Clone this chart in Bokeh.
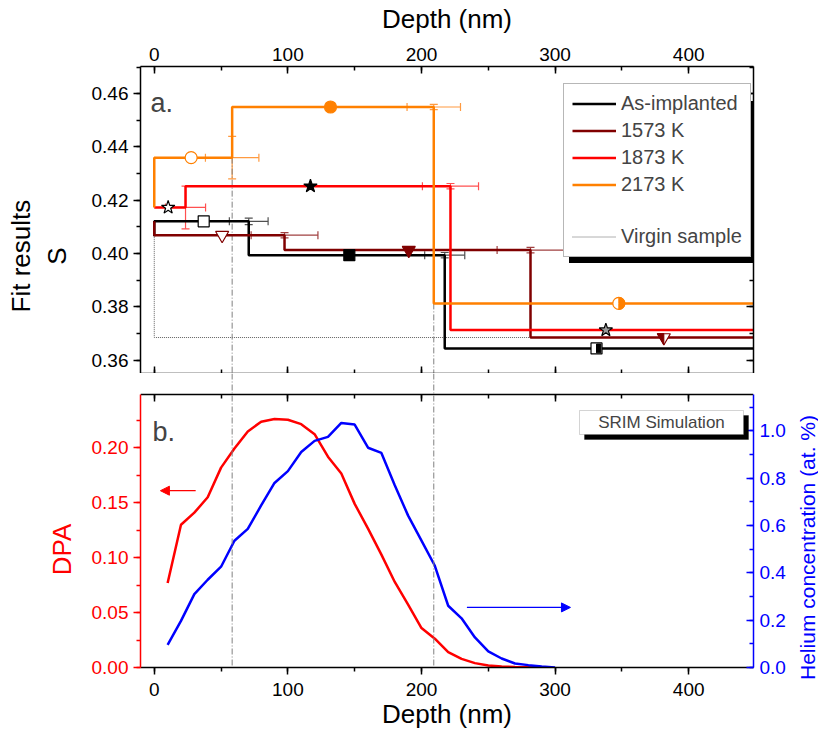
import math
from bokeh.plotting import figure
from bokeh.models import (Range1d, LinearAxis, SingleIntervalTicker, Legend, LegendItem,
                          Whisker, ColumnDataSource, Arrow, NormalHead, Label, BoxAnnotation,
                          PrintfTickFormatter, TeeHead, Span)
from bokeh.layouts import column, row
from bokeh.embed import file_html
from bokeh.resources import INLINE

FONT = "Liberation Sans"
NB = "\u00a0"

# ---------------- data ----------------
# SRIM simulation
sim_depth_dpa = [10, 20, 30, 40, 50, 60, 70, 80, 90, 100, 110, 120, 130, 140, 150, 160, 170, 180,
                 190, 200, 210, 220, 230, 240, 250, 260, 270, 280, 290]
dpa = [0.077, 0.130, 0.141, 0.155, 0.182, 0.1995, 0.215, 0.2238, 0.2262, 0.2256, 0.2216, 0.2125,
       0.192, 0.1767, 0.149, 0.1265, 0.1028, 0.0779, 0.0572, 0.0359, 0.0262, 0.014, 0.0079, 0.004,
       0.0018, 0.0009, 0.0005, 0.0003, 0.0001]
sim_depth_he = [10, 20, 30, 40, 50, 60, 70, 80, 90, 100, 110, 120, 130, 140, 150, 160, 170, 180,
                190, 200, 210, 220, 230, 240, 250, 260, 270, 280, 290, 300]
helium = [0.096, 0.197, 0.31, 0.371, 0.426, 0.536, 0.586, 0.685, 0.78, 0.83, 0.911, 0.958, 0.975,
          1.034, 1.027, 0.929, 0.907, 0.77, 0.642, 0.536, 0.43, 0.261, 0.208, 0.127, 0.068, 0.038,
          0.017, 0.01, 0.004, 0.0]

# Fit results (3-layer step profiles)
series = ["As-implanted", "1573 K", "1873 K", "2173 K"]
S0 = [0.4065, 0.4121, 0.4173, 0.4173]      # value at the surface
S1 = [0.4121, 0.4069, 0.4173, 0.4360]
S2 = [0.3994, 0.4013, 0.4253, 0.4550]
S3 = [0.3644, 0.3685, 0.3713, 0.3813]
d1 = [70.7, 97.5, 23.4, 58.3]
d2 = [217.4, 281.6, 221.7, 209.2]
d1_err = [14.5, 25.0, 15.0, 20.0]
d2_err = [15.0, 25.0, 21.0, 20.0]
S1_err = [0.0012, 0.0010, 0.0080, 0.0080]
S2_err = [0.0010, 0.0010, 0.0010, 0.0010]
mark1_x = [37.0, 50.8, 10.4, 27.6]
mark2_x = [146.0, 190.5, 116.9, 131.9]
mark3_x = [331.0, 381.4, 338.0, 347.7]
virgin_top = 0.4069
virgin_S = 0.3685
depth_end = 450

# ---------------- styles ----------------
colors = ["#000000", "#800000", "#FF0000", "#FF8000"]
err_colors = ["#505050", "#A04040", "#FF5050", "#FF9A40"]
marker_types = ["square", "inverted_triangle", "star", "circle"]
marker_line = ["#000000", "#800000", "#000000", "#FF8000"]
marker_fill = ["#000000", "#800000", "#000000", "#FF8000"]
marker_sizes = [11, 13, 14, 12]

X_LO, X_HI = -10.3, 448.5
Y1_LO, Y1_HI = 0.355, 0.4702
DPA_HI = 0.2486
HE_HI = 1.154
FW, FH1, FH2 = 613, 307, 273
EXT = 21            # part of the lower frame that fills the gap between the panels
LEFT_B = 140
RIGHT_B = 36
BOTTOM_B = 52
P3_DROP = 30        # how far the title strip's frame reaches below the lower panel


def style_axis(ax, color="#000000", tick_in=0, tick_out=7, labels=True, size="19px"):
    ax.axis_line_color = color
    ax.axis_line_width = 1.5
    ax.major_tick_line_color = color
    ax.minor_tick_line_color = color
    ax.major_tick_line_width = 1.5
    ax.minor_tick_line_width = 1.5
    ax.major_tick_in = tick_in
    ax.major_tick_out = tick_out
    ax.minor_tick_in = 4 if tick_in else 0
    ax.minor_tick_out = 4 if tick_out else 0
    ax.major_label_text_font = FONT
    if labels:
        ax.major_label_text_color = color
        ax.major_label_text_font_size = size
    else:
        ax.major_label_text_color = None
        ax.major_label_text_font_size = "1px"
        ax.major_label_standoff = 0
    ax.axis_label_text_font = FONT
    ax.axis_label_text_font_style = "normal"
    ax.axis_label_text_color = color


# ---------------- top panel ----------------
p1 = figure(frame_width=FW, frame_height=FH1, x_range=Range1d(X_LO, X_HI),
            y_range=Range1d(Y1_LO, Y1_HI), output_backend="svg", toolbar_location=None,
            x_axis_location="above", min_border_left=LEFT_B, min_border_right=RIGHT_B,
            min_border_top=66, min_border_bottom=0)
p1.outline_line_color = None
p1.grid.visible = False
p1.background_fill_color = "white"
p1.border_fill_color = "white"

p1.xaxis[0].ticker = SingleIntervalTicker(interval=100, num_minor_ticks=2)
style_axis(p1.xaxis[0], tick_in=7, tick_out=0)
p1.xaxis[0].axis_label = "Depth (nm)"
p1.xaxis[0].axis_label_text_font_size = "26px"
p1.xaxis[0].major_label_standoff = 6
p1.xaxis[0].axis_label_standoff = 11

p1.yaxis[0].ticker = SingleIntervalTicker(interval=0.02, num_minor_ticks=2)
p1.yaxis[0].formatter = PrintfTickFormatter(format="%.2f")
style_axis(p1.yaxis[0], tick_in=0, tick_out=7)
p1.yaxis[0].axis_label = "Fit results" + NB * 10 + "\nS" + NB * 10
p1.yaxis[0].axis_label_text_font_size = "26px"
p1.yaxis[0].major_label_standoff = 5
p1.yaxis[0].axis_label_standoff = 17

ax_b = LinearAxis(ticker=SingleIntervalTicker(interval=100, num_minor_ticks=2))
style_axis(ax_b, tick_in=7, tick_out=0, labels=False)
p1.add_layout(ax_b, "below")
ax_r = LinearAxis(ticker=SingleIntervalTicker(interval=0.02, num_minor_ticks=2))
style_axis(ax_r, tick_in=7, tick_out=0, labels=False)
p1.add_layout(ax_r, "right")

# virgin sample
virgin_r = p1.line([0, 0, depth_end], [virgin_top, virgin_S, virgin_S], line_color="#606060",
                   line_width=1, line_dash="1 1")

# guide lines at the 2173 K interfaces
p1.segment(x0=[d1[3], d2[3]], y0=[S1[3], S3[3]], x1=[d1[3], d2[3]], y1=[Y1_LO, Y1_LO],
           line_color="#808080", line_width=1, line_dash="6 2 1 2")

xpx = FW / (X_HI - X_LO)
ypx = FH1 / (Y1_HI - Y1_LO)

step_renderers = []
for i in range(4):
    xs = [0, 0, d1[i], d1[i], d2[i], d2[i], depth_end]
    ys = [S0[i], S1[i], S1[i], S2[i], S2[i], S3[i], S3[i]]
    r = p1.line(xs, ys, line_color=colors[i], line_width=2.5)
    step_renderers.append(r)
    hsrc = ColumnDataSource(dict(base=[S1[i], S2[i]],
                                 lower=[d1[i] - d1_err[i], d2[i] - d2_err[i]],
                                 upper=[d1[i] + d1_err[i], d2[i] + d2_err[i]]))
    p1.add_layout(Whisker(source=hsrc, base="base", lower="lower", upper="upper",
                          dimension="width", line_color=err_colors[i], line_width=1.2,
                          upper_head=TeeHead(size=8, line_color=err_colors[i], line_width=1.2),
                          lower_head=TeeHead(size=8, line_color=err_colors[i], line_width=1.2)))
    vsrc = ColumnDataSource(dict(base=[d1[i], d2[i]],
                                 lower=[S1[i] - S1_err[i], S2[i] - S2_err[i]],
                                 upper=[S1[i] + S1_err[i], S2[i] + S2_err[i]]))
    p1.add_layout(Whisker(source=vsrc, base="base", lower="lower", upper="upper",
                          dimension="height", line_color=err_colors[i], line_width=1.2,
                          upper_head=TeeHead(size=8, line_color=err_colors[i], line_width=1.2),
                          lower_head=TeeHead(size=8, line_color=err_colors[i], line_width=1.2)))

for i in range(4):
    p1.scatter([mark1_x[i]], [S1[i]], marker=marker_types[i], size=marker_sizes[i],
               fill_color="white", line_color=marker_line[i], line_width=1.2)
    p1.scatter([mark2_x[i]], [S2[i]], marker=marker_types[i], size=marker_sizes[i],
               fill_color=marker_fill[i], line_color=marker_line[i], line_width=1.2)
    xm, ym = mark3_x[i], S3[i]
    p1.scatter([xm], [ym], marker=marker_types[i], size=marker_sizes[i],
               fill_color="white" if i != 2 else "#9a9a9a", line_color=marker_line[i],
               line_width=1.2)
    if marker_types[i] == "circle":
        p1.wedge([xm], [ym], radius=marker_sizes[i] / 2, radius_units="screen",
                 start_angle=-math.pi / 2, end_angle=math.pi / 2,
                 fill_color=marker_fill[i], line_color=marker_line[i])
    elif marker_types[i] == "square":
        hw = marker_sizes[i] / 2.0 * 0.8
        dx, dy = hw / xpx, hw / ypx
        p1.patch([xm, xm + dx, xm + dx, xm], [ym - dy, ym - dy, ym + dy, ym + dy],
                 fill_color=marker_fill[i], line_color=marker_line[i])
    elif marker_types[i] == "inverted_triangle":
        w = 0.5 * marker_sizes[i] / xpx
        hu = 0.3 * marker_sizes[i] / ypx
        hd = 0.55 * marker_sizes[i] / ypx
        p1.patch([xm - w, xm, xm], [ym + hu, ym + hu, ym - hd],
                 fill_color=marker_fill[i], line_color=marker_line[i])

# legend with drop shadow (kept inside the frame, which clips annotations)
LEG_X, LEG_Y, LEG_W, LEG_H = 423, 116, 186, 160
shadow_r = p1.line([], [], line_alpha=0)
shadow = Legend(items=[LegendItem(label=" ", renderers=[shadow_r])],
                location=(LEG_X + 6, LEG_Y - 6), padding=0, margin=0, spacing=0,
                glyph_width=10, glyph_height=LEG_H, label_height=LEG_H,
                label_width=LEG_W - 10, label_standoff=0, label_text_font_size="1px",
                background_fill_color="black", background_fill_alpha=1,
                border_line_color="black")
p1.add_layout(shadow, "center")

spacer = p1.line([], [], line_alpha=0)
items = [LegendItem(label=series[k], renderers=[step_renderers[k]]) for k in range(4)]
items.append(LegendItem(label=" ", renderers=[spacer]))
items.append(LegendItem(label="Virgin sample", renderers=[virgin_r]))
legend = Legend(items=items, location=(LEG_X, LEG_Y), label_text_font=FONT,
                label_text_font_size="20px", glyph_width=44, glyph_height=21, label_height=21,
                spacing=4, padding=8, label_standoff=5, label_width=LEG_W - 16 - 49, margin=0,
                border_line_color="#707070", border_line_width=1,
                background_fill_color="white", background_fill_alpha=1)
p1.add_layout(legend, "center")

p1.add_layout(Label(x=10, y=271, x_units="screen", y_units="screen", text="a.",
                    text_font=FONT, text_font_size="27px", text_baseline="alphabetic"))

# ---------------- bottom panel ----------------
scale_ext = 1 + EXT / FH2
p2 = figure(frame_width=FW, frame_height=FH2 + EXT, x_range=p1.x_range,
            y_range=Range1d(0, DPA_HI * scale_ext),
            output_backend="svg", toolbar_location=None, min_border_left=LEFT_B,
            min_border_right=RIGHT_B, min_border_top=0, min_border_bottom=BOTTOM_B)
p2.extra_y_ranges = {"he": Range1d(0, HE_HI * scale_ext)}
p2.outline_line_color = None
p2.grid.visible = False
p2.background_fill_color = "white"
p2.border_fill_color = "white"

p2.xaxis[0].ticker = SingleIntervalTicker(interval=100, num_minor_ticks=2)
style_axis(p2.xaxis[0], tick_in=0, tick_out=7)
p2.xaxis[0].axis_label = "Depth (nm)"
p2.xaxis[0].axis_label_text_font_size = "26px"
p2.xaxis[0].major_label_standoff = 8
p2.xaxis[0].axis_label_standoff = 0

p2.yaxis[0].ticker = SingleIntervalTicker(interval=0.05, num_minor_ticks=2)
p2.yaxis[0].formatter = PrintfTickFormatter(format="%.2f")
p2.yaxis[0].bounds = (0, DPA_HI)
style_axis(p2.yaxis[0], color="#FF0000", tick_in=0, tick_out=7)
p2.yaxis[0].axis_label = "DPA" + NB * 8
p2.yaxis[0].axis_label_text_font_size = "26px"
p2.yaxis[0].major_label_standoff = 5
p2.yaxis[0].axis_label_standoff = 12

ax_he = LinearAxis(y_range_name="he", ticker=SingleIntervalTicker(interval=0.2, num_minor_ticks=2),
                   formatter=PrintfTickFormatter(format="%.1f"), bounds=(0, HE_HI))
style_axis(ax_he, color="#0000FF", tick_in=7, tick_out=0)
ax_he.major_label_standoff = 6
p2.add_layout(ax_he, "right")

# top edge of the lower panel, drawn inside the frame
ax_t2 = LinearAxis(ticker=SingleIntervalTicker(interval=100, num_minor_ticks=2),
                   fixed_location=DPA_HI)
style_axis(ax_t2, tick_in=7, tick_out=0, labels=False)
p2.add_layout(ax_t2, "above")

for xg in (d1[3], d2[3]):
    p2.add_layout(Span(location=xg, dimension="height", line_color="#808080", line_width=1,
                       line_dash="6 2 1 2"))

p2.line(sim_depth_dpa, dpa, line_color="#FF0000", line_width=2.5)
p2.line(sim_depth_he, helium, line_color="#0000FF", line_width=2.5, y_range_name="he")

p2.add_layout(Arrow(end=NormalHead(size=9, fill_color="#FF0000", line_color="#FF0000"),
                    x_start=31, y_start=0.161, x_end=4.6, y_end=0.161,
                    line_color="#FF0000", line_width=1.3))
p2.add_layout(Arrow(end=NormalHead(size=9, fill_color="#0000FF", line_color="#0000FF"),
                    x_start=234, y_start=0.254, x_end=311.5, y_end=0.254, y_range_name="he",
                    line_color="#0000FF", line_width=1.3))

# SRIM box with shadow
p2.add_layout(BoxAnnotation(left=444, right=608, bottom=228, top=252, left_units="screen",
                            right_units="screen", bottom_units="screen", top_units="screen",
                            fill_color="black", fill_alpha=1, line_color="black"))
p2.add_layout(BoxAnnotation(left=439, right=603, bottom=233, top=257, left_units="screen",
                            right_units="screen", bottom_units="screen", top_units="screen",
                            fill_color="white", fill_alpha=1, line_color="#707070",
                            line_width=1))
p2.add_layout(Label(x=521, y=245, x_units="screen", y_units="screen", text="SRIM Simulation",
                    text_font=FONT, text_font_size="17px", text_align="center",
                    text_baseline="middle"))
p2.add_layout(Label(x=12, y=236, x_units="screen", y_units="screen", text="b.",
                    text_font=FONT, text_font_size="27px", text_baseline="alphabetic"))

# strip to the right of the lower panel holding the helium axis title
p3 = figure(frame_width=29, frame_height=FH2 + EXT + P3_DROP, x_range=Range1d(0, 1),
            y_range=Range1d(0, 1), output_backend="svg", toolbar_location=None,
            x_axis_location=None, y_axis_location=None, min_border_left=0, min_border_right=0,
            min_border_top=0, min_border_bottom=max(BOTTOM_B - P3_DROP, 0))
p3.outline_line_color = None
p3.grid.visible = False
p3.border_fill_color = "white"
p3.background_fill_color = "white"
p3.add_layout(Label(x=17.5, y=120 + P3_DROP, x_units="screen", y_units="screen",
                    text="Helium concentration (at. %)", angle=math.pi / 2,
                    text_font=FONT, text_font_size="21px", text_color="#0000FF",
                    text_align="center", text_baseline="middle"))

layout = column(p1, row(p2, p3, spacing=0), spacing=0)
open("out.html", "w").write(file_html(layout, INLINE))
